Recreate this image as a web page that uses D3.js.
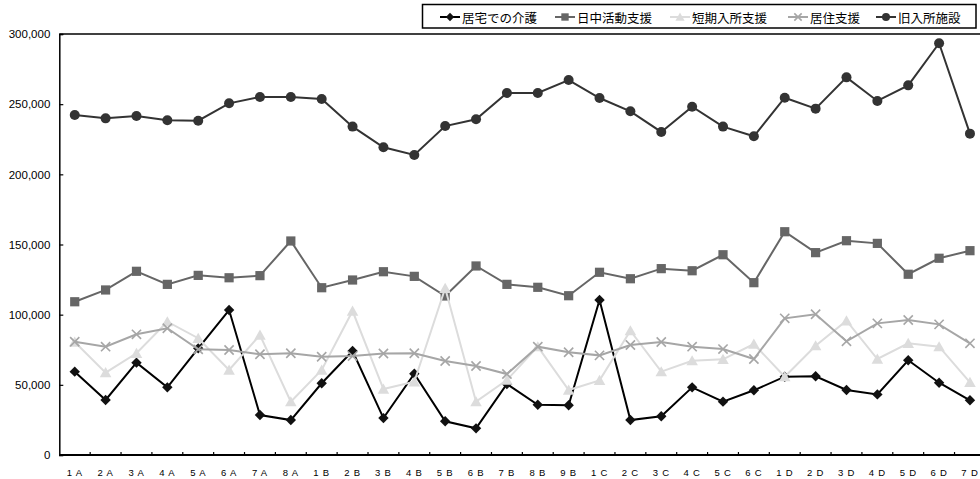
<!DOCTYPE html>
<html>
<head>
<meta charset="utf-8">
<script src="https://cdn.jsdelivr.net/npm/d3@7"></script>
<style>
  html, body { margin: 0; padding: 0; background: #fff; }
  svg { display: block; }
  text { font-family: "Liberation Sans", Arial, "Noto Sans CJK JP", sans-serif; }
  .legend text { font-family: "Noto Sans CJK JP", sans-serif; }
</style>
</head>
<body>
<svg id="chart" width="980" height="479"></svg>
<script>
// Categories along the horizontal axis
const categories = [
  "1 A","2 A","3 A","4 A","5 A","6 A","7 A","8 A",
  "1 B","2 B","3 B","4 B","5 B","6 B","7 B","8 B","9 B",
  "1 C","2 C","3 C","4 C","5 C","6 C",
  "1 D","2 D","3 D","4 D","5 D","6 D","7 D"
];

// Series values
const kyotakuKaigo = [
  59400, 39200, 65800, 48200, 76000, 103300, 28500, 24900,
  51100, 74100, 26300, 57900, 24000, 19000, 50600, 35800, 35400,
  110500, 24900, 27600, 48200, 38000, 46100,
  55800, 56100, 46300, 43200, 67500, 51500, 39000
];
const nicchuKatsudo = [
  109200, 117600, 130900, 121600, 128000, 126300, 127800, 152500,
  119200, 124700, 130600, 127300, 113300, 134700, 121600, 119500, 113500,
  130200, 125600, 132800, 131300, 142700, 122800,
  159100, 144200, 152700, 150800, 128800, 140200, 145600
];
const tankiNyusho = [
  80500, 58700, 72500, 95000, 83200, 60600, 85500, 38000,
  60600, 102600, 47000, 52200, 118800, 38000, 53400, 77200, 46300,
  53200, 88600, 59400, 67200, 68200, 79100,
  55800, 77900, 95700, 68400, 79600, 77200, 51800
];
const kyojuShien = [
  80700, 77200, 86000, 90300, 75300, 74800, 71800, 72500,
  70000, 70500, 72300, 72500, 67000, 63400, 57700, 77200, 73200,
  71000, 78400, 80500, 77200, 75500, 68400,
  97400, 100300, 81000, 93800, 96200, 93100, 79600
];
const kyuNyushoShisetsu = [
  242300, 239900, 241600, 238500, 238200, 250600, 255100, 255100,
  253700, 234000, 219300, 213800, 234400, 239200, 258000, 258000, 267200,
  254400, 244900, 230200, 248200, 234000, 227100,
  254600, 246800, 269100, 252300, 263400, 293400, 229000
];

// Series names (legend order)
const seriesNames = ["居宅での介護", "日中活動支援", "短期入所支援", "居住支援", "旧入所施設"];

// Y-axis tick values
const yTicks = [0, 50000, 100000, 150000, 200000, 250000, 300000];

const seriesValues = [kyotakuKaigo, nicchuKatsudo, tankiNyusho, kyojuShien, kyuNyushoShisetsu];

const styles = [
  { line: "#000000", fill: "#111111", marker: "diamond" },
  { line: "#666666", fill: "#666666", marker: "square" },
  { line: "#dcdcdc", fill: "#dcdcdc", marker: "triangle" },
  { line: "#a6a6a6", fill: "none",    marker: "cross" },
  { line: "#333333", fill: "#333333", marker: "circle" }
];

const svg = d3.select("#chart");
const plot = { left: 59.3, right: 985.4, top: 34, bottom: 455 };

const x = d3.scaleBand().domain(categories).range([plot.left, plot.right]);
const y = d3.scaleLinear().domain([0, 300000]).range([plot.bottom, plot.top]);
const cx = c => x(c) + x.bandwidth() / 2;

// Plot frame: top border line
svg.append("line")
  .attr("x1", plot.left).attr("x2", 980)
  .attr("y1", plot.top).attr("y2", plot.top)
  .attr("stroke", "#000").attr("stroke-width", 1.5);

// Y axis
const yAxis = d3.axisLeft(y).tickValues(yTicks).tickSize(-4).tickPadding(9)
  .tickFormat(d3.format(","));
const gy = svg.append("g").attr("transform", `translate(${plot.left},0)`).call(yAxis);
gy.select(".domain").attr("stroke", "#000").attr("stroke-width", 1.5);
gy.selectAll(".tick line").attr("stroke", "#000").attr("stroke-width", 1.2);
gy.selectAll(".tick text").attr("font-size", "11.5px").attr("fill", "#000");

// X axis: ticks between categories
const gx = svg.append("g");
gx.append("line")
  .attr("x1", plot.left).attr("x2", 980)
  .attr("y1", plot.bottom).attr("y2", plot.bottom)
  .attr("stroke", "#000").attr("stroke-width", 2);
gx.selectAll("line.tk").data(categories.slice(1)).join("line")
  .attr("class", "tk")
  .attr("x1", d => x(d)).attr("x2", d => x(d))
  .attr("y1", plot.bottom).attr("y2", plot.bottom - 3)
  .attr("stroke", "#000").attr("stroke-width", 1.2);
gx.selectAll("text").data(categories).join("text")
  .attr("x", d => cx(d))
  .attr("y", plot.bottom + 21)
  .attr("text-anchor", "middle")
  .attr("font-size", "9.5px")
  .attr("letter-spacing", "0.8px")
  .attr("fill", "#000")
  .text(d => d);

// Marker drawing
function drawMarker(sel, kind, st, scale) {
  const s = scale || 1;
  if (kind === "circle") {
    sel.append("circle").attr("r", 5 * s).attr("fill", st.fill);
  } else if (kind === "square") {
    sel.append("rect").attr("x", -4.6 * s).attr("y", -4.6 * s)
      .attr("width", 9.2 * s).attr("height", 9.2 * s).attr("fill", st.fill);
  } else if (kind === "diamond") {
    const r = 5.2 * s;
    sel.append("path").attr("d", `M0,${-r}L${r},0L0,${r}L${-r},0Z`).attr("fill", st.fill);
  } else if (kind === "triangle") {
    const h = 5.5 * s;
    sel.append("path").attr("d", `M0,${-h}L${h * 1.05},${h * 0.85}L${-h * 1.05},${h * 0.85}Z`)
      .attr("fill", st.fill);
  } else if (kind === "cross") {
    const r = 4.6 * s;
    sel.append("path").attr("d", `M${-r},${-r}L${r},${r}M${-r},${r}L${r},${-r}`)
      .attr("stroke", st.line).attr("stroke-width", 1.6).attr("fill", "none");
  }
}

const line = d3.line().x((d, i) => cx(categories[i])).y(d => y(d));

seriesValues.forEach((vals, si) => {
  const st = styles[si];
  const g = svg.append("g");
  g.append("path").datum(vals)
    .attr("d", line)
    .attr("fill", "none")
    .attr("stroke", st.line)
    .attr("stroke-width", 2);
  g.selectAll("g.m").data(vals).join("g")
    .attr("class", "m")
    .attr("transform", (d, i) => `translate(${cx(categories[i])},${y(d)})`)
    .each(function () { drawMarker(d3.select(this), st.marker, st, 1); });
});

// Legend
const legend = svg.append("g").attr("class", "legend");
legend.append("rect")
  .attr("x", 422.5).attr("y", 4.5).attr("width", 553.5).attr("height", 23.5)
  .attr("fill", "#fff").attr("stroke", "#000").attr("stroke-width", 1.5);
const legendX = [440, 555, 670, 788, 876];
seriesNames.forEach((name, i) => {
  const st = styles[i];
  const g = legend.append("g").attr("transform", `translate(${legendX[i]},17)`);
  g.append("line").attr("x1", 0).attr("x2", 20).attr("y1", 0).attr("y2", 0)
    .attr("stroke", st.line).attr("stroke-width", 2);
  const m = g.append("g").attr("transform", "translate(10,0)");
  drawMarker(m, st.marker, st, 0.8);
  g.append("text").attr("x", 22).attr("y", 5.5)
    .attr("font-size", "12.5px").attr("fill", "#000").text(name);
});
</script>
</body>
</html>
